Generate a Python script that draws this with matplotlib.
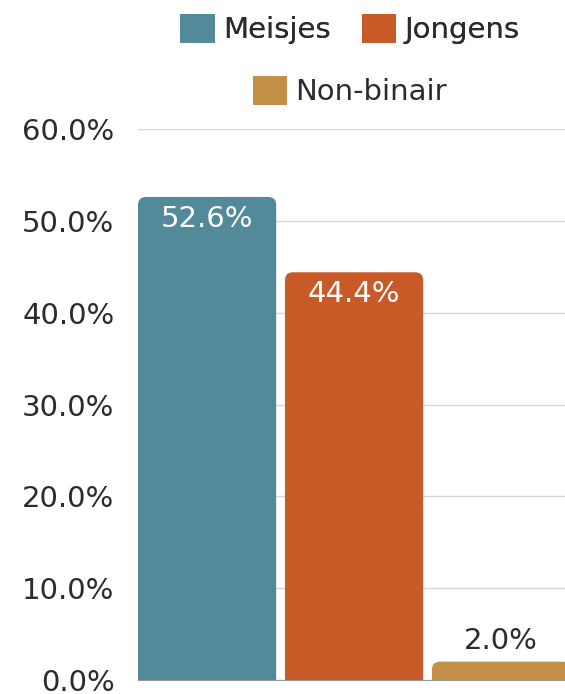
import matplotlib.pyplot as plt
from matplotlib.patches import FancyBboxPatch, Patch

categories = ['Meisjes', 'Jongens', 'Non-binair']
values = [52.6, 44.4, 2.0]
colors = ['#528A9A', '#C85A27', '#C48F46']
y_ticks = [0, 10, 20, 30, 40, 50, 60]

text_color = '#2b2b2b'
plt.rcParams['font.family'] = ['DejaVu Sans']

fig = plt.figure(figsize=(5.65, 6.94), dpi=100)
ax = fig.add_axes([138 / 565, 14 / 694, 1 - 138 / 565, 551 / 694])

width = 0.94
ax.set_xlim(-0.47, 2.435)
ax.set_ylim(0, 60)

# rounded tops: radius in x units, aspect converts to y units
px_x = 147.0
px_y = 551.0 / 60
radius = 8 / px_x
aspect = px_x / px_y
for i, (v, c) in enumerate(zip(values, colors)):
    bar = FancyBboxPatch((i - width / 2, -3), width, v + 3,
                         boxstyle='round,pad=0,rounding_size=%f' % radius,
                         mutation_aspect=aspect, facecolor=c, edgecolor='none',
                         zorder=3)
    ax.add_patch(bar)
    if v > 10:
        ax.annotate('%.1f%%' % v, (i, v), xytext=(0, -16), textcoords='offset points',
                    ha='center', va='center', color='white', fontsize=21, zorder=4)
    else:
        ax.annotate('%.1f%%' % v, (i, v), xytext=(0, 15), textcoords='offset points',
                    ha='center', va='center', color=text_color, fontsize=21, zorder=4)

ax.set_yticks(y_ticks)
ax.set_yticklabels(['%.1f%%' % t for t in y_ticks], fontsize=21, color=text_color)
ax.tick_params(axis='y', length=0, pad=17)
ax.set_xticks([])
ax.grid(axis='y', color='#d6d6d6', linewidth=1, zorder=0)
for s in ['top', 'right', 'left']:
    ax.spines[s].set_visible(False)
ax.spines['bottom'].set_color('#999999')
ax.spines['bottom'].set_zorder(5)

handles = [Patch(facecolor=c, edgecolor='none') for c in colors]
leg1 = fig.legend(handles[:2], categories[:2], loc='center', bbox_to_anchor=(350 / 565, 1 - 29 / 694),
                  ncol=2, frameon=False, fontsize=21, handlelength=1.17, handleheight=1.17,
                  handletextpad=0.3, columnspacing=1.05, labelcolor=text_color)
leg2 = fig.legend(handles[2:], categories[2:], loc='center', bbox_to_anchor=(350 / 565, 1 - 91 / 694),
                  frameon=False, fontsize=21, handlelength=1.17, handleheight=1.17,
                  handletextpad=0.3, labelcolor=text_color)
fig.add_artist(leg1)

fig.savefig('out.png', dpi=100)
